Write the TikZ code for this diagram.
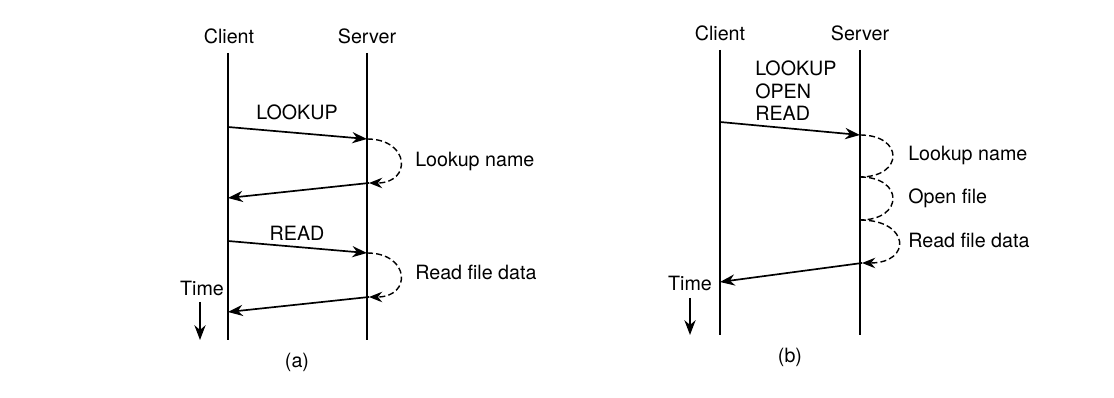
\documentclass[tikz,border=0pt]{standalone}
\usepackage{fontspec}
\setmainfont{TeX Gyre Heros}
\usetikzlibrary{arrows.meta}

\begin{document}
\begin{tikzpicture}[x=0.025cm, y=-0.025cm,
    every node/.style={font=\fontsize{14}{16}\selectfont, inner sep=0pt},
    lifeline/.style={line width=0.9pt},
    msg/.style={line width=1.2pt, -{Stealth[length=0.37cm, width=0.28cm]}},
    work/.style={line width=1pt, dash pattern=on 1.5mm off 0.8mm},
    workend/.style={work, -{Stealth[length=0.33cm, width=0.26cm]}}]

    % Define lifeline limits
    \def\topA{53}
    \def\botA{340}
    \def\topB{50}
    \def\botB{335}

    \useasboundingbox (0,0) rectangle (1114,398);

    % ---------- (a) ----------
    % Draw lifelines
    \node (clientA) at (229,36) {Client};
    \node (serverA) at (367,36) {Server};
    \coordinate (clientA top) at (228,\topA);
    \coordinate (clientA bot) at (228,\botA);
    \coordinate (serverA top) at (367,\topA);
    \coordinate (serverA bot) at (367,\botA);
    \draw[lifeline] (clientA top) -- (clientA bot);
    \draw[lifeline] (serverA top) -- (serverA bot);

    % Define message end points
    \coordinate (a1) at (228,127);
    \coordinate (a2) at (367,139);
    \coordinate (a3) at (369,183);
    \coordinate (a4) at (228,198);
    \coordinate (a5) at (228,241);
    \coordinate (a6) at (367,253);
    \coordinate (a7) at (369,297);
    \coordinate (a8) at (228,312);

    % Draw messages and server work
    \draw[msg] (a1) -- (a2);
    \node (lookupA) at (297,112) {LOOKUP};
    \draw[workend] (a2) .. controls +(43,0) and +(43,0) .. (a3);
    \node[anchor=west] (nameA) at (415,161) {Lookup name};
    \draw[msg] (a3) -- (a4);

    \draw[msg] (a5) -- (a6);
    \node (readA) at (297,233) {READ};
    \draw[workend] (a6) .. controls +(43,0) and +(43,0) .. (a7);
    \node[anchor=west] (dataA) at (415,272) {Read file data};
    \draw[msg] (a7) -- (a8);

    % Draw time arrow
    \node (timeA) at (202,288) {Time};
    \coordinate (timeA top) at (200,302);
    \coordinate (timeA bot) at (200,340);
    \draw[msg] (timeA top) -- (timeA bot);

    \node (capA) at (297,362) {(a)};

    % ---------- (b) ----------
    % Draw lifelines
    \node (clientB) at (720,33) {Client};
    \node (serverB) at (860,33) {Server};
    \coordinate (clientB top) at (720,\topB);
    \coordinate (clientB bot) at (720,\botB);
    \coordinate (serverB top) at (860,\topB);
    \coordinate (serverB bot) at (860,\botB);
    \draw[lifeline] (clientB top) -- (clientB bot);
    \draw[lifeline] (serverB top) -- (serverB bot);

    % Define message end points
    \coordinate (b1) at (720,122);
    \coordinate (b2) at (860,135);
    \coordinate (b3) at (860,177);
    \coordinate (b4) at (860,220);
    \coordinate (b5) at (862,263);
    \coordinate (b6) at (720,282);

    % Draw messages and server work
    \node[anchor=north west, align=left] (reqB) at (755,61) {LOOKUP\\OPEN\\READ};
    \draw[msg] (b1) -- (b2);
    \draw[work] (b2) .. controls +(44,0) and +(44,0) .. (b3);
    \draw[work] (b3) .. controls +(44,0) and +(44,0) .. (b4);
    \draw[workend] (b4) .. controls +(50,0) and +(50,0) .. (b5);
    \node[anchor=west] (nameB) at (908,155) {Lookup name};
    \node[anchor=west] (openB) at (908,198) {Open file};
    \node[anchor=west] (dataB) at (908,240) {Read file data};
    \draw[msg] (b5) -- (b6);

    % Draw time arrow
    \node (timeB) at (690,283) {Time};
    \coordinate (timeB top) at (690,298);
    \coordinate (timeB bot) at (690,335);
    \draw[msg] (timeB top) -- (timeB bot);

    \node (capB) at (790,357) {(b)};

\end{tikzpicture}
\end{document}
